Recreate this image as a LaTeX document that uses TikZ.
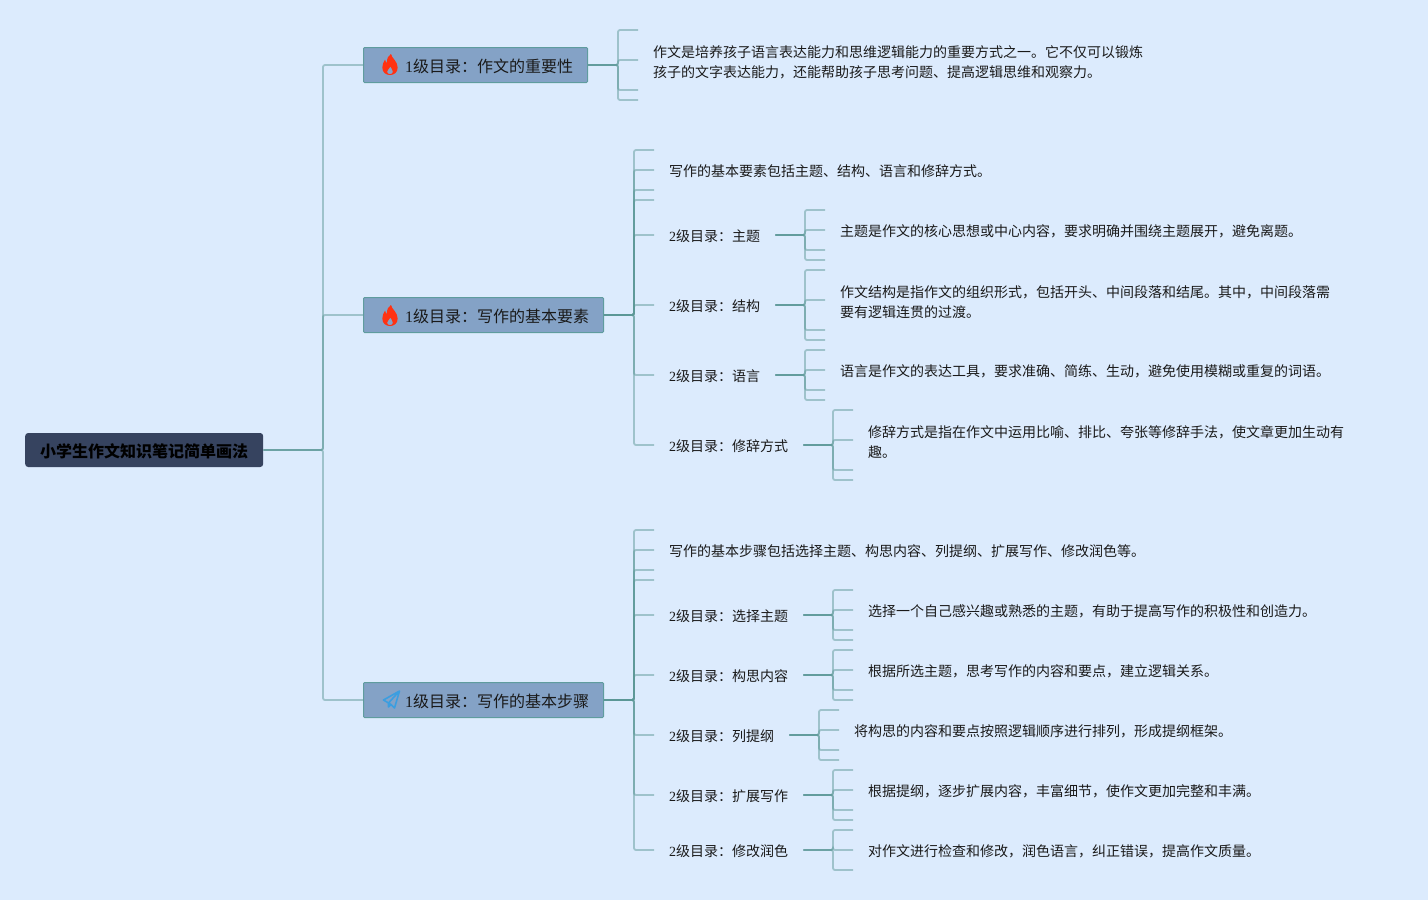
\documentclass[tikz,border=0pt]{standalone}
\usepackage{fontspec}
\setmainfont{Noto Sans CJK SC}
\newfontfamily\lat{Liberation Serif}
\definecolor{pagebg}{HTML}{DCEBFD}
\definecolor{lnkc}{HTML}{5B9796}
\definecolor{lonebg}{HTML}{84A2C6}
\definecolor{loneedge}{HTML}{5F9C9E}
\definecolor{rootbg}{HTML}{36435F}
\definecolor{txt}{HTML}{1A1A1A}
\definecolor{flamec}{HTML}{FF3212}
\definecolor{planec}{HTML}{3B9EE0}
\newcommand{\dn}[2][1pt]{\raisebox{-#1}[\height][\depth]{#2}}
\newcommand{\dnm}[1]{\raisebox{-3.5pt}[\height][\depth]{\begin{tabular}{@{}l@{}}#1\end{tabular}}}
\tikzset{
  lnk/.style={draw=lnkc,draw opacity=.48,line width=1.8pt,rounded corners=2pt},
  rootbox/.style={anchor=west,fill=rootbg,rounded corners=3pt,minimum height=34pt,minimum width=238pt,inner xsep=15pt,inner ysep=0pt,text=black,font=\fontsize{16}{20}\selectfont\bfseries},
  lonebox/.style={anchor=west,fill=lonebg,draw=loneedge,line width=1pt,rounded corners=1pt,minimum height=35pt,inner xsep=14.5pt,inner ysep=0pt,text=txt,font=\fontsize{16}{20}\selectfont},
  ltwo/.style={anchor=west,inner xsep=15pt,inner ysep=0pt,minimum height=20pt,text=txt,font=\fontsize{14}{20}\selectfont},
  leaf/.style={anchor=west,inner xsep=15pt,inner ysep=0pt,text=txt,font=\fontsize{14}{20}\selectfont},
}
\newcommand{\fork}[3]{%
  \coordinate (v) at (#2,0);
  \foreach \t in {#3} \draw[lnk] (#1) -- (#1 -| v) -- (v |- \t) -- (\t);
}
\newcommand{\tickends}[2]{% x, list of name/y
  \foreach \n/\y in {#2} \coordinate (\n) at (#1,\y);
}
\newcommand{\flameicon}[2]{%
  \fill[flamec,even odd rule,shift={(#1,#2)},xscale=.9]
    (1,-10.5) .. controls (2,-6.5) and (8.5,-3) .. (8.5,3)
    .. controls (8.5,8) and (4.5,10.5) .. (0,10.5)
    .. controls (-4.5,10.5) and (-8.5,8) .. (-8.5,3)
    .. controls (-8.5,0) and (-7,-3) .. (-5.5,-5)
    .. controls (-5,-3) and (-4.5,-2) .. (-3.5,-1.5)
    .. controls (-3.5,-6) and (-2,-9) .. (1,-10.5) -- cycle
    (0.5,2) .. controls (1,4) and (3.2,5) .. (3.2,7.2)
    .. controls (3.2,8.8) and (1.8,9.6) .. (0,9.6)
    .. controls (-1.8,9.6) and (-3.2,8.8) .. (-3.2,7.2)
    .. controls (-3.2,5.5) and (-1,4.5) .. (0.5,2) -- cycle;
}
\newcommand{\planeicon}[2]{%
  \draw[planec,line width=1.6pt,line join=round,shift={(#1,#2)}]
    (8.5,-8.5) -- (-7.5,0.5) -- (-2.5,3.5) -- (8.5,-8.5) -- (3.5,8.5) -- (0,5) -- (-2.5,3.5) -- (-2.5,7.5) -- (0,5);
}
\begin{document}
\begin{tikzpicture}[x=1pt,y=-1pt]
\useasboundingbox (0,0) rectangle (1428,900);
\fill[pagebg] (0,0) rectangle (1428,900);

\node[rootbox] (root) at (25,450) {\dn{小学生作文知识笔记简单画法}};
\node[lonebox] (a) at (363,65) {\hspace*{27pt}\dn{{\lat 1}级目录：作文的重要性}};
\node[lonebox] (b) at (363,315) {\hspace*{27pt}\dn{{\lat 1}级目录：写作的基本要素}};
\node[lonebox] (c) at (363,700) {\hspace*{27pt}\dn{{\lat 1}级目录：写作的基本步骤}};
\flameicon{390}{64.5}
\flameicon{390}{315.5}
\planeicon{391}{699.5}

% leaf of a
\node[leaf] (at) at (638,60) {\dnm{作文是培养孩子语言表达能力和思维逻辑能力的重要方式之一。它不仅可以锻炼\\孩子的文字表达能力，还能帮助孩子思考问题、提高逻辑思维和观察力。}};
% b
\node[leaf] (bt) at (654,170) {\dn[1.5pt]{写作的基本要素包括主题、结构、语言和修辞方式。}};
\node[ltwo] (b1) at (654,235) {\dn{{\lat 2}级目录：主题}};
\node[ltwo] (b2) at (654,305) {\dn{{\lat 2}级目录：结构}};
\node[ltwo] (b3) at (654,375) {\dn{{\lat 2}级目录：语言}};
\node[ltwo] (b4) at (654,445) {\dn{{\lat 2}级目录：修辞方式}};
\node[leaf] (b1t) at (825,230) {\dn[1.5pt]{主题是作文的核心思想或中心内容，要求明确并围绕主题展开，避免离题。}};
\node[leaf] (b2t) at (825,300) {\dnm{作文结构是指作文的组织形式，包括开头、中间段落和结尾。其中，中间段落需\\要有逻辑连贯的过渡。}};
\node[leaf] (b3t) at (825,370) {\dn[1.5pt]{语言是作文的表达工具，要求准确、简练、生动，避免使用模糊或重复的词语。}};
\node[leaf] (b4t) at (853,440) {\dnm{修辞方式是指在作文中运用比喻、排比、夸张等修辞手法，使文章更加生动有\\趣。}};
% c
\node[leaf] (ct) at (654,550) {\dn[1.5pt]{写作的基本步骤包括选择主题、构思内容、列提纲、扩展写作、修改润色等。}};
\node[ltwo] (c1) at (654,615) {\dn{{\lat 2}级目录：选择主题}};
\node[ltwo] (c2) at (654,675) {\dn{{\lat 2}级目录：构思内容}};
\node[ltwo] (c3) at (654,735) {\dn{{\lat 2}级目录：列提纲}};
\node[ltwo] (c4) at (654,795) {\dn{{\lat 2}级目录：扩展写作}};
\node[ltwo] (c5) at (654,850) {\dn{{\lat 2}级目录：修改润色}};
\node[leaf] (c1t) at (853,610) {\dn[1.5pt]{选择一个自己感兴趣或熟悉的主题，有助于提高写作的积极性和创造力。}};
\node[leaf] (c2t) at (853,670) {\dn[1.5pt]{根据所选主题，思考写作的内容和要点，建立逻辑关系。}};
\node[leaf] (c3t) at (839,730) {\dn[1.5pt]{将构思的内容和要点按照逻辑顺序进行排列，形成提纲框架。}};
\node[leaf] (c4t) at (853,790) {\dn[1.5pt]{根据提纲，逐步扩展内容，丰富细节，使作文更加完整和丰满。}};
\node[leaf] (c5t) at (853,850) {\dn[1.5pt]{对作文进行检查和修改，润色语言，纠正错误，提高作文质量。}};

\tickends{638}{e1/30,e2/90,e3/100}
\tickends{654}{f1/150,f2/190,f3/200,g1/530,g2/570,g3/580}
\tickends{825}{h1/210,h2/250,h3/260,i1/270,i2/330,i3/340,j1/350,j2/390,j3/400}
\tickends{853}{k1/410,k2/470,k3/480,m1/590,m2/630,m3/640,n1/650,n2/690,n3/700,q1/770,q2/810,q3/820,r1/830,r2/870}
\tickends{839}{p1/710,p2/750,p3/760}

\fork{root.east}{323}{a.west,b.west,c.west}
\fork{a.east}{618}{e1,at.west,e2,e3}
\fork{b.east}{634}{f1,bt.west,f2,f3,b1.west,b2.west,b3.west,b4.west}
\fork{c.east}{634}{g1,ct.west,g2,g3,c1.west,c2.west,c3.west,c4.west,c5.west}
\fork{b1.east}{805}{h1,b1t.west,h2,h3}
\fork{b2.east}{805}{i1,b2t.west,i2,i3}
\fork{b3.east}{805}{j1,b3t.west,j2,j3}
\fork{b4.east}{833}{k1,b4t.west,k2,k3}
\fork{c1.east}{833}{m1,c1t.west,m2,m3}
\fork{c2.east}{833}{n1,c2t.west,n2,n3}
\fork{c3.east}{819}{p1,c3t.west,p2,p3}
\fork{c4.east}{833}{q1,c4t.west,q2,q3}
\fork{c5.east}{833}{r1,c5t.west,r2}
\end{tikzpicture}
\end{document}
